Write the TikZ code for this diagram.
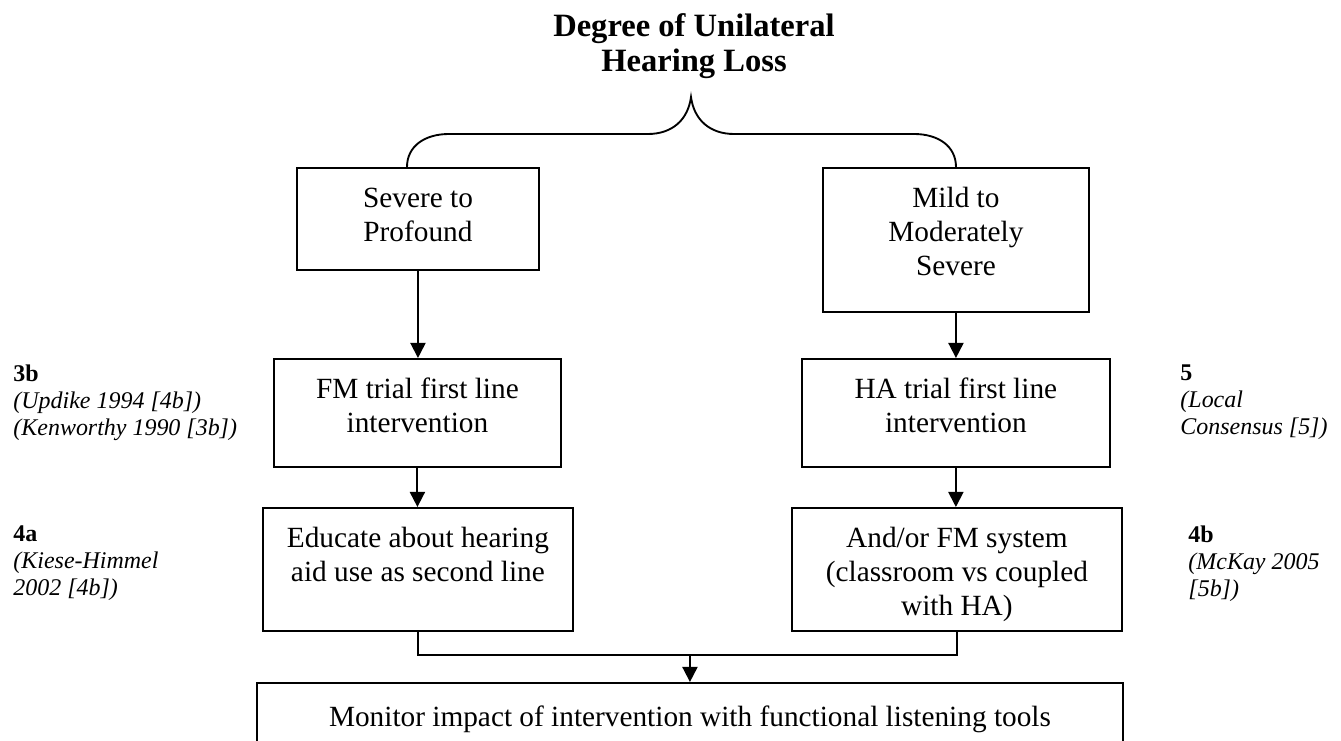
\documentclass[tikz,border=0pt]{standalone}
\usepackage{fontspec}
\setmainfont{Liberation Serif}
\usetikzlibrary{arrows.meta}
\newcommand{\bxt}[4]{\parbox[c][#2][t]{#1}{\centering\fontsize{12.6}{14.8}\selectfont\vspace*{#3}\strut #4\par}}
\begin{document}
\begin{tikzpicture}[x=0.43pt,y=-0.43pt,
  box/.style={draw, line width=0.8pt, inner sep=0pt, anchor=north west},
  lab/.style={align=left, inner sep=0pt, anchor=north west, font=\fontsize{10.3}{11.7}\selectfont},
  arr/.style={line width=0.8pt, -{Triangle[width=6.5pt,length=6.5pt]}},
  conn/.style={line width=0.8pt}]
\useasboundingbox (0,0) rectangle (1341,741);
\clip (0,0) rectangle (1341,741);

% title
\node[anchor=north, inner sep=0pt, align=center, font=\fontsize{14}{15}\selectfont\bfseries] (title) at (694,13) {Degree of Unilateral\\Hearing Loss};

% boxes
\node[box] (sev) at (296,167) {\bxt{104.1pt}{43.9pt}{6.5pt}{Severe to\\Profound}};
\node[box] (mild) at (822,167) {\bxt{114.4pt}{61.9pt}{6.5pt}{Mild to\\Moderately\\Severe}};
\node[box] (fm) at (273,358) {\bxt{123.4pt}{46.4pt}{6.5pt}{FM trial first line\\intervention}};
\node[box] (ha) at (801,358) {\bxt{132.4pt}{46.4pt}{6.5pt}{HA trial first line\\intervention}};
\node[box] (edu) at (262,507) {\bxt{133.3pt}{52.9pt}{6.5pt}{Educate about hearing\\aid use as second line}};
\node[box] (andor) at (791,507) {\bxt{141.9pt}{52.9pt}{6.5pt}{And/or FM system\\(classroom vs coupled\\with HA)}};
\node[box] (mon) at (256,682) {\bxt{372.4pt}{51.6pt}{8.5pt}{Monitor impact of intervention with functional listening tools}};

% brace from title to the two degree boxes
\draw[conn] (407,167) .. controls (407,146) and (425,134) .. (449,134) -- (648,134)
  .. controls (672,134) and (688,120) .. (691,97)
  .. controls (694,120) and (710,134) .. (734,134) -- (914,134)
  .. controls (938,134) and (956,146) .. (956,167);

% arrows
\draw[arr] (sev.south) -- (sev.south |- fm.north);
\draw[arr] (mild.south) -- (mild.south |- ha.north);
\draw[arr] (fm.south) -- (fm.south |- edu.north);
\draw[arr] (ha.south) -- (ha.south |- andor.north);
\coordinate (j) at (mon.north |- 0,655);
\draw[conn] (edu.south) |- (j) -| (andor.south);
\draw[arr] (j) -- (mon.north);

% evidence labels
\node[lab] (l3b) at (13,364) {\textbf{3b}\\\textit{(Updike 1994 [4b])}\\\textit{(Kenworthy 1990 [3b])}};
\node[lab] (l5) at (1180,364) {\textbf{5}\\\textit{(Local}\\\textit{Consensus [5])}};
\node[lab] (l4a) at (13,525) {\textbf{4a}\\\textit{(Kiese-Himmel}\\\textit{2002 [4b])}};
\node[lab] (l4b) at (1188,525) {\textbf{4b}\\\textit{(McKay 2005}\\\textit{[5b])}};
\end{tikzpicture}
\end{document}
